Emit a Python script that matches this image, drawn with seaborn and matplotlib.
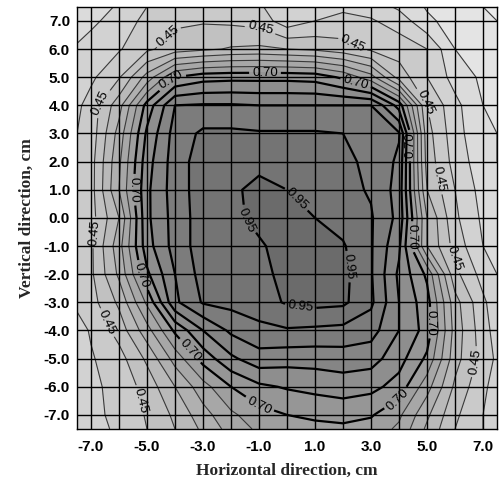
import numpy as np
import matplotlib
matplotlib.use("Agg")
import matplotlib.pyplot as plt
import seaborn as sns
from matplotlib.colors import ListedColormap, BoundaryNorm
from matplotlib.ticker import FixedLocator

# ---------------- data ----------------
x_cm = [-7.5, -7, -6, -5, -4, -3, -2, -1, 0, 1, 2, 3, 4, 5, 6, 7, 7.5]
y_cm = [7.5, 7, 6, 5, 4, 3, 2, 1, 0, -1, -2, -3, -4, -5, -6, -7, -7.5]

row_y_p7_5 = [.32, .33, .355, .40, .425, .43, .425, .41, .35, .37, .39, .38, .34, .295, .27, .25, .24]
row_y_p7 = [.33, .34, .37, .415, .44, .445, .44, .43, .37, .40, .415, .405, .38, .31, .28, .26, .25]
row_y_p6 = [.355, .37, .395, .44, .475, .49, .505, .51, .50, .49, .47, .44, .425, .40, .30, .27, .26]
row_y_p5 = [.37, .39, .445, .57, .70, .73, .735, .735, .735, .73, .69, .62, .48, .40, .33, .29, .28]
row_y_p4 = [.39, .42, .53, .72, .85, .855, .855, .85, .85, .85, .85, .85, .73, .45, .365, .30, .28]
row_y_p3 = [.40, .42, .57, .76, .87, .91, .91, .905, .905, .905, .90, .875, .855, .47, .37, .31, .30]
row_y_p2 = [.40, .43, .59, .78, .875, .925, .93, .935, .925, .915, .91, .89, .84, .48, .38, .32, .30]
row_y_p1 = [.40, .43, .60, .79, .875, .925, .94, .965, .95, .925, .915, .895, .83, .50, .40, .33, .31]
row_y_0 = [.40, .43, .55, .79, .87, .925, .94, .96, .97, .95, .93, .905, .835, .55, .41, .34, .32]
row_y_m1 = [.41, .44, .58, .78, .87, .925, .935, .945, .965, .97, .955, .905, .81, .55, .43, .35, .33]
row_y_m2 = [.41, .44, .56, .74, .85, .92, .93, .94, .96, .975, .965, .905, .79, .69, .465, .38, .35]
row_y_m3 = [.41, .43, .51, .66, .84, .905, .915, .93, .955, .965, .96, .91, .80, .72, .52, .41, .37]
row_y_m4 = [.38, .405, .47, .58, .71, .80, .86, .885, .895, .89, .885, .87, .80, .73, .53, .42, .38]
row_y_m5 = [.39, .395, .43, .51, .62, .72, .79, .83, .82, .82, .825, .82, .77, .69, .52, .43, .39]
row_y_m6 = [.38, .39, .415, .47, .55, .63, .70, .74, .755, .765, .775, .765, .73, .62, .49, .41, .38]
row_y_m7 = [.37, .39, .41, .455, .51, .58, .64, .68, .70, .71, .715, .705, .66, .56, .46, .40, .37]
row_y_m7_5 = [.37, .39, .405, .45, .50, .56, .62, .66, .68, .685, .69, .68, .64, .54, .45, .40, .37]

tick_values_x = [-7, -5, -3, -1, 1, 3, 5, 7]
tick_values_y = [-7, -6, -5, -4, -3, -2, -1, 0, 1, 2, 3, 4, 5, 6, 7]

# ---------------- figure ----------------
sns.set_style("white")
plt.rcParams["axes.unicode_minus"] = False
plt.rcParams["font.family"] = ["Liberation Sans", "DejaVu Sans"]

Z = np.array([row_y_p7_5, row_y_p7, row_y_p6, row_y_p5, row_y_p4, row_y_p3,
              row_y_p2, row_y_p1, row_y_0, row_y_m1, row_y_m2, row_y_m3,
              row_y_m4, row_y_m5, row_y_m6, row_y_m7, row_y_m7_5])
X = np.array(x_cm)
Y = np.array(y_cm)

fig = plt.figure(figsize=(5.0, 4.88), dpi=100)
ax = fig.add_axes([0.154, 0.121, 0.840, 0.865])

bounds = np.round(np.arange(0.20, 1.0001, 0.05), 2)
n_bands = len(bounds) - 1
mids = (bounds[:-1] + bounds[1:]) / 2
grays = np.clip(232 - (mids - 0.25) * (232 - 108) / 0.72, 100, 235) / 255.0
cmap = ListedColormap([(g, g, g) for g in grays])
norm = BoundaryNorm(bounds, n_bands)

ax.contourf(X, Y, Z, levels=bounds, cmap=cmap, norm=norm, zorder=1)

thin_kw = dict(colors="#3a3a3a", linewidths=0.8, zorder=2)
thick_kw = dict(colors="black", linewidths=1.6, zorder=2)
thin_levels = [l for l in bounds if 0.2 < l < 0.699 and abs(l - 0.45) > 1e-6]
thick_levels = [l for l in bounds if 0.699 < l < 0.99 and abs(l - 0.70) > 1e-6
                and abs(l - 0.95) > 1e-6]
ax.contour(X, Y, Z, levels=thin_levels, **thin_kw)
ax.contour(X, Y, Z, levels=thick_levels, **thick_kw)
cs45 = ax.contour(X, Y, Z, levels=[0.45], **thin_kw)
cs70 = ax.contour(X, Y, Z, levels=[0.70], **thick_kw)
cs95 = ax.contour(X, Y, Z, levels=[0.95], **thick_kw)


def px2d(px, py):
    return ((px - 77) / 28 - 7.5, 7.5 - (py - 7) / 28)


pos45 = [(170, 38), (258, 35), (355, 40), (97, 100), (425, 102), (100, 232),
         (440, 178), (455, 257), (110, 320), (155, 395), (475, 360)]
pos70 = [(167, 75), (265, 73), (355, 85), (410, 145), (410, 236), (437, 321),
         (397, 397), (257, 407), (187, 352), (140, 275), (133, 189)]
pos95 = [(300, 195), (244, 221), (352, 265), (300, 310)]

for cs, plist in ((cs45, pos45), (cs70, pos70), (cs95, pos95)):
    for p in plist:
        try:
            cs.clabel(fmt="%.2f", fontsize=9.5, inline=True, inline_spacing=3,
                      manual=[px2d(*p)], colors="black")
        except Exception:
            pass

ax.set_xlim(-7.5, 7.5)
ax.set_ylim(-7.5, 7.5)

ax.xaxis.set_major_locator(FixedLocator(tick_values_x))
ax.xaxis.set_minor_locator(FixedLocator(tick_values_y))
ax.yaxis.set_major_locator(FixedLocator(tick_values_y))
ax.set_xticklabels(["%.1f" % v for v in tick_values_x])
ax.set_yticklabels(["%.1f" % v for v in tick_values_y])
ax.tick_params(axis="x", which="both", direction="out", length=5, width=1,
               color="black", labelsize=11, pad=3)
ax.tick_params(axis="y", which="both", length=0, labelsize=11, pad=5)
for lab in ax.get_xticklabels() + ax.get_yticklabels():
    lab.set_fontweight("bold")
    lab.set_color("black")

ax.grid(True, which="both", color="black", linewidth=1.0)
ax.set_axisbelow(False)
for s in ax.spines.values():
    s.set_visible(True)
    s.set_color("black")
    s.set_linewidth(1.0)

ax.set_xlabel("Horizontal direction, cm", fontsize=12.5, fontweight="bold",
              family=["Liberation Serif", "DejaVu Serif"], labelpad=6)
ax.set_ylabel("Vertical direction, cm", fontsize=12.5, fontweight="bold",
              family=["Liberation Serif", "DejaVu Serif"], labelpad=6)

fig.savefig("out.png", dpi=100)
